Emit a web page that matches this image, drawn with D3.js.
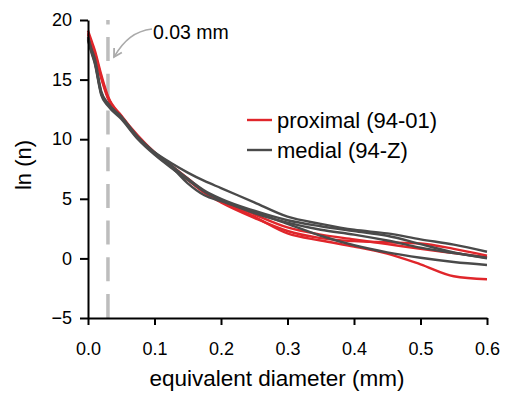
<!DOCTYPE html>
<html>
<head>
<meta charset="utf-8">
<script src="https://cdn.jsdelivr.net/npm/d3@7"></script>
<style>
  body { margin: 0; background: #fff; }
  svg { display: block; font-family: "Liberation Sans", Arial, sans-serif; }
</style>
</head>
<body>
<div id="chart"></div>
<script>
// x samples (equivalent diameter, mm)
const diam = [0, 0.005, 0.01, 0.02, 0.03, 0.05, 0.075, 0.1, 0.125, 0.15, 0.175, 0.2, 0.25, 0.3, 0.35, 0.4, 0.45, 0.5, 0.55, 0.6];

// proximal (94-01) - red
const proximal = [
  [19.1, 18.3, 17.5, 15.4, 13.6, 12.0, 10.3, 8.9, 7.8, 6.7, 5.6, 4.8, 3.5, 2.1, 1.5, 1.0, 0.4, -0.5, -1.5, -1.75],
  [18.9, 18.1, 17.3, 15.2, 13.5, 11.9, 10.2, 8.9, 7.7, 6.6, 5.5, 4.7, 3.4, 2.3, 1.7, 1.45, 1.35, 1.25, 0.8, 0.23],
  [18.8, 18.0, 17.2, 15.1, 13.4, 11.9, 10.2, 8.8, 7.7, 6.6, 5.6, 4.9, 3.7, 2.6, 2.0, 1.6, 1.2, 0.8, 0.45, 0.1]
];

// medial (94-Z) - dark gray
const medial = [
  [18.6, 17.6, 16.8, 14.0, 13.0, 11.8, 10.1, 8.9, 8.0, 7.2, 6.5, 5.9, 4.7, 3.5, 2.9, 2.4, 2.1, 1.6, 1.15, 0.56],
  [18.4, 17.4, 16.5, 13.8, 12.9, 11.8, 10.1, 8.8, 7.7, 6.3, 5.3, 4.8, 3.9, 2.9, 1.9, 1.1, 0.5, 0.05, -0.3, -0.55],
  [18.5, 17.5, 16.6, 13.9, 13.0, 11.9, 10.2, 8.9, 7.8, 6.7, 5.7, 5.0, 4.0, 3.2, 2.7, 2.3, 1.9, 1.2, 0.5, 0.0],
  [18.3, 17.3, 16.4, 13.7, 12.8, 11.7, 10.0, 8.7, 7.6, 6.6, 5.6, 4.9, 3.8, 3.0, 2.4, 2.0, 1.5, 0.9, 0.45, 0.05]
];

const xTicks = [0, 0.1, 0.2, 0.3, 0.4, 0.5, 0.6];
const yTicks = [-5, 0, 5, 10, 15, 20];
const cutoff = 0.03;

const legendItems = [
  {label: "proximal (94-01)", color: "#e0262b"},
  {label: "medial (94-Z)", color: "#4a4a4a"}
];

const width = 505, height = 393;

const svg = d3.select("#chart").append("svg")
  .attr("width", width)
  .attr("height", height);

const x = d3.scaleLinear().domain([0, 0.6]).range([88, 487]);
const y = d3.scaleLinear().domain([-5, 20]).range([318, 20]);

// dashed cutoff line (drawn bottom to top)
svg.append("line")
  .attr("x1", x(cutoff)).attr("x2", x(cutoff))
  .attr("y1", y(-5)).attr("y2", y(20))
  .attr("stroke", "#bdbdbd")
  .attr("stroke-width", 3.5)
  .attr("stroke-dasharray", "24,12.7");

const line = d3.line()
  .x((d, i) => x(diam[i]))
  .y(d => y(d))
  .curve(d3.curveMonotoneX);

svg.selectAll(".prox").data(proximal).join("path")
  .attr("class", "prox")
  .attr("d", line)
  .attr("fill", "none")
  .attr("stroke", legendItems[0].color)
  .attr("stroke-width", 2.4);

svg.selectAll(".med").data(medial).join("path")
  .attr("class", "med")
  .attr("d", line)
  .attr("fill", "none")
  .attr("stroke", legendItems[1].color)
  .attr("stroke-width", 2.4);

// axes
const xAxis = svg.append("g")
  .attr("transform", `translate(0,${y(-5)})`)
  .call(d3.axisBottom(x).tickValues(xTicks).tickFormat(d3.format(".1f")).tickSize(7).tickSizeOuter(0).tickPadding(17));

const yAxis = svg.append("g")
  .attr("transform", `translate(${x(0)},0)`)
  .call(d3.axisLeft(y).tickValues(yTicks).tickSize(8).tickSizeOuter(0).tickPadding(8));

[xAxis, yAxis].forEach(g => {
  g.select(".domain").attr("stroke", "#000").attr("stroke-width", 2);
  g.selectAll(".tick line").attr("stroke", "#000").attr("stroke-width", 2);
  g.selectAll(".tick text").attr("fill", "#000").style("font-size", "18px").style("font-family", "Liberation Sans, Arial, sans-serif");
});

// axis titles
svg.append("text")
  .attr("x", 277).attr("y", 386)
  .attr("text-anchor", "middle")
  .style("font-size", "22.5px")
  .text("equivalent diameter (mm)");

svg.append("text")
  .attr("transform", "translate(31,165) rotate(-90)")
  .attr("text-anchor", "middle")
  .style("font-size", "22px")
  .text("ln (n)");

// annotation
svg.append("defs").append("marker")
  .attr("id", "arrow")
  .attr("viewBox", "0 0 10 10")
  .attr("refX", 8).attr("refY", 5)
  .attr("markerWidth", 7).attr("markerHeight", 7)
  .attr("orient", "auto")
  .append("path")
  .attr("d", "M1,1 L8,5 L1,9")
  .attr("fill", "none")
  .attr("stroke", "#aaaaaa")
  .attr("stroke-width", 1.6);

svg.append("path")
  .attr("d", "M152,29 C135,31 124,40 114,57")
  .attr("fill", "none")
  .attr("stroke", "#aaaaaa")
  .attr("stroke-width", 1.6)
  .attr("marker-end", "url(#arrow)");

svg.append("text")
  .attr("x", 153).attr("y", 39)
  .style("font-size", "19.5px")
  .text("0.03 mm");

// legend
const legend = svg.append("g").attr("transform", "translate(247,120)");
legendItems.forEach((item, i) => {
  const row = legend.append("g").attr("transform", `translate(0,${i * 30})`);
  row.append("line")
    .attr("x1", 0).attr("x2", 25)
    .attr("stroke", item.color)
    .attr("stroke-width", 2.4);
  row.append("text")
    .attr("x", 30).attr("y", 7.5)
    .style("font-size", "22px")
    .text(item.label);
});
</script>
</body>
</html>
